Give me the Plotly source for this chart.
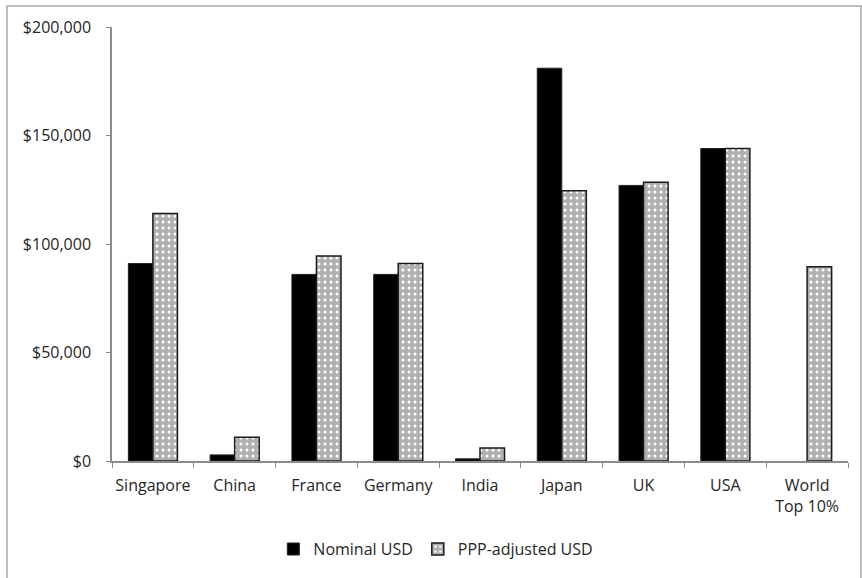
import plotly.graph_objects as go

countries = ["Singapore", "China", "France", "Germany", "India",
             "Japan", "UK", "USA", "World<br>Top 10%"]
nominal_usd = [91000, 2800, 86000, 86000, 1000, 181000, 127000, 144000, None]
ppp_usd = [114000, 11000, 94500, 91000, 6000, 124500, 128500, 144000, 89500]
y_ticks = [0, 50000, 100000, 150000, 200000]
y_tick_labels = ["$0", "$50,000", "$100,000", "$150,000", "$200,000"]

font_family = "Open Sans"
text_color = "#262626"
axis_color = "#8c8c8c"

fig = go.Figure()
fig.add_trace(go.Bar(
    name="Nominal USD", x=countries, y=nominal_usd,
    marker=dict(color="black", line=dict(color="#222222", width=1)),
))
fig.add_trace(go.Bar(
    name="PPP-adjusted USD", x=countries, y=ppp_usd,
    marker=dict(
        color="#c4c4c4",
        line=dict(color="#1a1a1a", width=1.5),
        pattern=dict(shape=".", fgcolor="#ffffff", bgcolor="#b0b0b0",
                     size=6, solidity=0.2, fillmode="replace"),
    ),
))

fig.update_layout(
    width=862, height=578,
    barmode="group", bargap=0.4, bargroupgap=0,
    paper_bgcolor="white", plot_bgcolor="white",
    margin=dict(l=112, r=14, t=27, b=117),
    font=dict(family=font_family, size=16, color=text_color),
    showlegend=True,
    legend=dict(orientation="h", x=0.44, xanchor="center",
                y=-0.203, yanchor="middle",
                font=dict(size=16, color=text_color),
                itemwidth=30, traceorder="normal"),
    xaxis=dict(
        showline=True, linecolor=axis_color, linewidth=1.5,
        ticks="outside", tickson="boundaries", ticklen=5,
        tickcolor=axis_color, showgrid=False, ticklabelstandoff=9,
        tickangle=0, automargin=False,
    ),
    yaxis=dict(
        range=[0, 200000], tickvals=y_ticks, ticktext=y_tick_labels,
        showline=True, linecolor=axis_color, linewidth=1.5,
        ticks="outside", ticklen=4, tickcolor=axis_color,
        showgrid=False, zeroline=False, ticklabelstandoff=12,
        automargin=False,
    ),
    shapes=[dict(type="rect", xref="paper", yref="paper",
                 x0=-105 / 736, x1=749 / 736, y0=-119 / 434, y1=455 / 434,
                 line=dict(color="#a6a6a6", width=1.5), layer="below")],
)

fig.write_html("out.html")
